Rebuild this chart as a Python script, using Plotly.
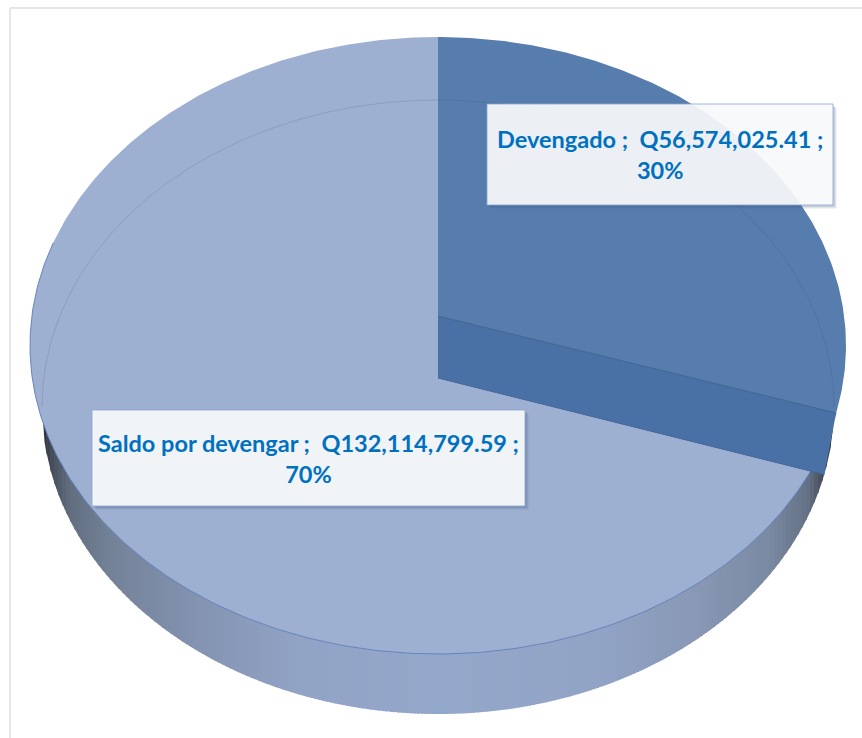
import math
import numpy as np
import plotly.graph_objects as go

# --- data ---
categories = ["Devengado", "Saldo por devengar"]
values = [56574025.41, 132114799.59]

# --- colours ---
TEXT = "#0070C0"
SLICE_TOP = "#567DAD"
SLICE_WALL = "#4A71A6"
REST_TOP = "#9DB0D1"
RIM = "#6585BC"
WALL_X = [40, 50, 70, 110, 200, 300, 438, 600, 700, 770, 810, 822, 836]
WALL_RGB = [(34, 38, 46), (66, 74, 86), (98, 110, 128), (116, 130, 152), (132, 148, 178),
            (146, 164, 198), (148, 168, 203), (146, 164, 198), (136, 152, 181),
            (122, 138, 163), (100, 112, 132), (72, 78, 92), (44, 48, 56)]

# --- perspective geometry of the two faces of the disc (page pixels) ---
CX = 438
TOP_FACE = dict(cy=345.5, rx=408, ry=308.5, apex=316)
BOTTOM_FACE = dict(cy=407, rx=396, ry=307, apex=378)


def rim(fractions, face):
    """Map pie fractions (clockwise from 12 o'clock) on to a face's rim in perspective."""
    a = (face["apex"] - face["cy"]) / face["ry"]
    w = 1j * a / (1 + math.sqrt(1 - a * a))
    xs, ys = [], []
    for f in fractions:
        t = 2 * math.pi * f
        z = complex(math.sin(t), -math.cos(t))
        m = (z + w) / (1 + w.conjugate() * z)
        xs.append(CX + face["rx"] * m.real)
        ys.append(face["cy"] + face["ry"] * m.imag)
    return xs, ys


share = values[0] / sum(values)
front = np.linspace(share, 1, 400)
back = np.linspace(0, share, 200)

fig = go.Figure()


def add(xs, ys, fill=None, line=None, width=0, name=None):
    fig.add_trace(go.Scatter(
        x=xs, y=ys, mode="lines", name=name, hoverinfo="skip", showlegend=False,
        fill="toself" if fill else "none", fillcolor=fill,
        line=dict(color=line or "rgba(0,0,0,0)", width=width)))


# outer wall: vertical strips of the shading between the two faces
edges = np.arange(CX - BOTTOM_FACE["rx"], CX + BOTTOM_FACE["rx"], 4.0)
for x0 in edges:
    x1 = min(x0 + 5.0, CX + BOTTOM_FACE["rx"])
    xm = (x0 + x1) / 2
    col = [int(np.interp(xm, WALL_X, [c[i] for c in WALL_RGB])) for i in range(3)]
    sx = np.linspace(x0, x1, 5)
    sy = BOTTOM_FACE["cy"] + BOTTOM_FACE["ry"] * np.sqrt(np.clip(1 - ((sx - CX) / BOTTOM_FACE["rx"]) ** 2, 0, 1))
    add(list(sx) + [x1, x0], list(sy) + [BOTTOM_FACE["cy"], BOTTOM_FACE["cy"]], fill=f"rgb({col[0]},{col[1]},{col[2]})")

# larger slice, top face
xs, ys = rim(front, TOP_FACE)
add([CX] + xs + [CX], [TOP_FACE["apex"]] + ys + [TOP_FACE["apex"]], fill=REST_TOP, name=categories[1])
add(xs[:280], ys[:280], line=RIM, width=1)

# cut wall of the smaller slice
tx, ty = rim([share], TOP_FACE)
bx, by = rim([share], BOTTOM_FACE)
add([CX, tx[0], bx[0], CX, CX], [TOP_FACE["apex"], ty[0], by[0], BOTTOM_FACE["apex"], TOP_FACE["apex"]],
    fill=SLICE_WALL)
add([CX, bx[0]], [BOTTOM_FACE["apex"], by[0]], line="#44689A", width=1)

# smaller slice, top face
xs, ys = rim(back, TOP_FACE)
add([CX] + xs + [CX], [TOP_FACE["apex"]] + ys + [TOP_FACE["apex"]], fill=SLICE_TOP, name=categories[0])
add([CX, tx[0]], [TOP_FACE["apex"], ty[0]], line="#3F6291", width=1)

# far rim of the bottom face, seen through the disc
arc = np.linspace(-0.265, 0.265, 300) % 1
xs, ys = rim(arc, BOTTOM_FACE)
add(xs, ys, line="rgba(50,80,120,0.18)", width=1)

# --- labels ---
boxes = [(487, 104, 833, 205), (92, 410, 525, 506)]
shapes = [
    dict(type="line", x0=10, y0=8, x1=10, y1=738, line=dict(color="#E6E6E6", width=2)),
    dict(type="line", x0=10, y0=8, x1=862, y1=8, line=dict(color="#E6E6E6", width=2)),
]
annotations = []
for cat, val, (x0, y0, x1, y1) in zip(categories, values, boxes):
    for off, alpha in ((4, 0.07), (3, 0.10), (2, 0.14)):
        path = (f"M {x1},{y0 + off} L {x1 + off},{y0 + off} L {x1 + off},{y1 + off} "
                f"L {x0 + off},{y1 + off} L {x0 + off},{y1} L {x1},{y1} Z")
        shapes.append(dict(type="path", path=path, fillcolor=f"rgba(60,80,130,{alpha})", line=dict(width=0)))
    shapes.append(dict(type="rect", x0=x0, y0=y0, x1=x1, y1=y1, fillcolor="rgba(248,249,250,0.93)",
                       line=dict(color="rgba(140,165,205,0.8)", width=1)))
    pct = val / sum(values)
    annotations.append(dict(
        x=(x0 + x1) / 2, y=(y0 + y1) / 2, xref="x", yref="y", showarrow=False, align="center",
        text=f"<b>{cat} ;\u00a0\u00a0Q{val:,.2f} ;<br>{pct:.0%}</b>",
        font=dict(family="Lato", size=23.5, color=TEXT)))

fig.update_layout(
    width=862, height=738, margin=dict(l=0, r=0, t=0, b=0), autosize=False,
    paper_bgcolor="white", plot_bgcolor="white", showlegend=False,
    xaxis=dict(range=[0, 862], visible=False, fixedrange=True),
    yaxis=dict(range=[738, 0], visible=False, fixedrange=True),
    shapes=shapes, annotations=annotations)

fig.write_html("out.html", config={"displayModeBar": False},
               post_script="document.body.style.margin='0';document.body.style.overflow='hidden';")
